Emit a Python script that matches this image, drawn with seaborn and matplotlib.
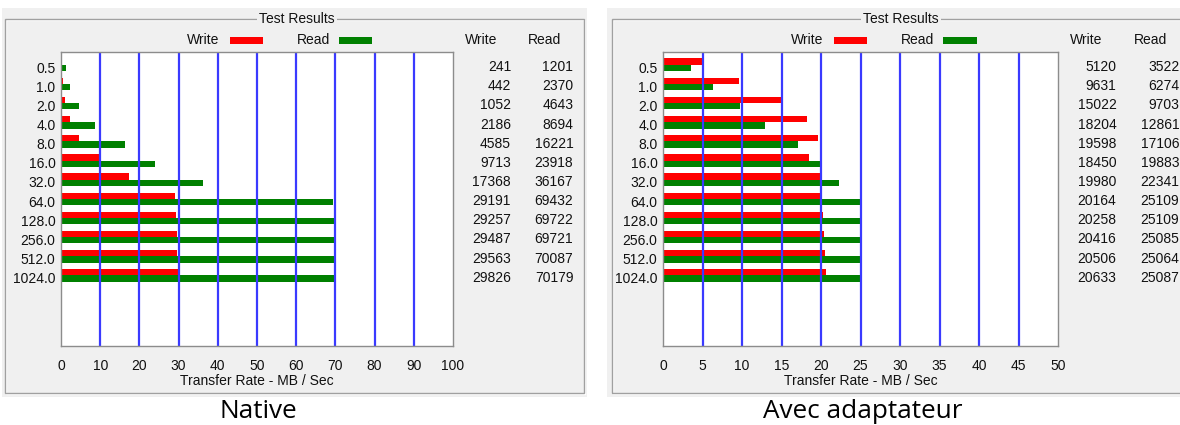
import numpy as np
import pandas as pd
import matplotlib
matplotlib.use("Agg")
import matplotlib.pyplot as plt
from matplotlib.patches import Rectangle
import seaborn as sns

# Block sizes (KB) and measured transfer rates (KB/s)
block_sizes = ["0.5", "1.0", "2.0", "4.0", "8.0", "16.0", "32.0",
               "64.0", "128.0", "256.0", "512.0", "1024.0"]
native_write = [241, 442, 1052, 2186, 4585, 9713, 17368,
                29191, 29257, 29487, 29563, 29826]
native_read = [1201, 2370, 4643, 8694, 16221, 23918, 36167,
               69432, 69722, 69721, 70087, 70179]
adapter_write = [5120, 9631, 15022, 18204, 19598, 18450, 19980,
                 20164, 20258, 20416, 20506, 20633]
adapter_read = [3522, 6274, 9703, 12861, 17106, 19883, 22341,
                25109, 25109, 25085, 25064, 25087]
native_ticks = [0, 10, 20, 30, 40, 50, 60, 70, 80, 90, 100]
adapter_ticks = [0, 5, 10, 15, 20, 25, 30, 35, 40, 45, 50]
series_names = ["Write", "Read"]
captions = ["Native", "Avec adaptateur"]
box_title = "Test Results"
x_title = "Transfer Rate - MB / Sec"

W, H = 1180, 425
RED = "#ff0000"
GREEN = "#008000"
GRID_BLUE = "#3a3aff"
PANEL = "#f0f0f0"
EDGE = "#a0a0a0"
TXT = "#111111"

sns.set_style("white")
plt.rcParams["font.family"] = ["Liberation Sans", "DejaVu Sans"]
plt.rcParams["font.size"] = 10

fig = plt.figure(figsize=(W / 100, H / 100), dpi=100, facecolor="white")


def fx(x):
    return x / W


def fy(y):
    return 1 - y / H


AX_TOP, AX_BOTTOM = 52, 346
ROW_SHIFT = 0.12

panels = [
    dict(write=native_write, read=native_read, ticks=native_ticks,
         caption=captions[0], left=61, right=453, bg=(2, 587), box=(5, 584),
         cap_x=258),
    dict(write=adapter_write, read=adapter_read, ticks=adapter_ticks,
         caption=captions[1], left=663, right=1058, bg=(607, 1190),
         box=(612, 1192), cap_x=863),
]

for p in panels:
    # grey dialog background and group-box frame
    bx0, bx1 = p["bg"]
    fig.add_artist(Rectangle((fx(bx0), fy(397)), (bx1 - bx0) / W, (397 - 8) / H,
                             transform=fig.transFigure, facecolor=PANEL,
                             edgecolor="none", zorder=-2))
    gx0, gx1 = p["box"]
    fig.add_artist(Rectangle((fx(gx0 + 1), fy(394)), (gx1 - gx0) / W, (394 - 20) / H,
                             transform=fig.transFigure, facecolor="none",
                             edgecolor="white", lw=1, zorder=-1.5))
    fig.add_artist(Rectangle((fx(gx0), fy(393)), (gx1 - gx0) / W, (393 - 19) / H,
                             transform=fig.transFigure, facecolor="none",
                             edgecolor=EDGE, lw=1, zorder=-1))

    ax = fig.add_axes([fx(p["left"]), fy(AX_BOTTOM),
                       (p["right"] - p["left"]) / W, (AX_BOTTOM - AX_TOP) / H])
    ax.set_facecolor("white")

    df = pd.DataFrame({
        "size": block_sizes * 2,
        "rate": np.r_[p["write"], p["read"]] / 1000.0,
        "kind": [series_names[0]] * len(block_sizes) + [series_names[1]] * len(block_sizes),
    })
    sns.barplot(data=df, x="rate", y="size", hue="kind", order=block_sizes,
                hue_order=series_names, palette=[RED, GREEN], orient="h",
                width=0.66, saturation=1, linewidth=0, legend=False, ax=ax)

    ticks = p["ticks"]
    for t in ticks[1:-1]:
        ax.axvline(t, color=GRID_BLUE, lw=1.6, zorder=3)
    ax.set_xlim(ticks[0], ticks[-1])
    ax.set_xticks(ticks, [str(t) for t in ticks])
    rows = np.arange(len(block_sizes))
    ax.set_yticks(rows + ROW_SHIFT, block_sizes)
    ax.set_ylim(14.68, -0.665)
    ax.set_ylabel("")
    ax.set_xlabel(x_title, fontsize=10, labelpad=1, color=TXT)
    ax.tick_params(axis="x", length=0, pad=9, labelsize=10, labelcolor=TXT)
    ax.tick_params(axis="y", length=0, pad=4, labelsize=10, labelcolor=TXT)
    for s in ax.spines.values():
        s.set_color("#8c8c8c")
        s.set_linewidth(1)
        s.set_zorder(4)

    # group-box title sitting on the frame line
    title_y = 1 + (AX_TOP - 19) / (AX_BOTTOM - AX_TOP)
    ax.text(0.602, title_y, box_title, transform=ax.transAxes, ha="center",
            va="center", fontsize=10, color=TXT,
            bbox=dict(boxstyle="square,pad=0.15", facecolor=PANEL, edgecolor="none"))

    # legend: label then colour swatch
    leg_y = 1 + (AX_TOP - 40.5) / (AX_BOTTOM - AX_TOP)
    sw_h = 6 / (AX_BOTTOM - AX_TOP)
    ax.text(0.405, leg_y, series_names[0], transform=ax.transAxes, ha="right",
            va="center", fontsize=10, color=TXT)
    ax.add_patch(Rectangle((0.432, leg_y - sw_h / 2), 0.084, sw_h,
                           transform=ax.transAxes, facecolor=RED,
                           edgecolor="none", clip_on=False))
    ax.text(0.602, leg_y, series_names[1], transform=ax.transAxes, ha="left",
            va="center", fontsize=10, color=TXT)
    ax.add_patch(Rectangle((0.709, leg_y - sw_h / 2), 0.085, sw_h,
                           transform=ax.transAxes, facecolor=GREEN,
                           edgecolor="none", clip_on=False))

    # value table to the right of the plot
    ax.text(1.031, leg_y, series_names[0], transform=ax.transAxes, ha="left",
            va="center", fontsize=10, color=TXT)
    ax.text(1.191, leg_y, series_names[1], transform=ax.transAxes, ha="left",
            va="center", fontsize=10, color=TXT)
    ytr = ax.get_yaxis_transform()
    for r, (w, rd) in enumerate(zip(p["write"], p["read"])):
        ax.text(1.148, r + ROW_SHIFT, str(w), transform=ytr, ha="right",
                va="center", fontsize=10, color=TXT, clip_on=False)
        ax.text(1.307, r + ROW_SHIFT, str(rd), transform=ytr, ha="right",
                va="center", fontsize=10, color=TXT, clip_on=False)

    fig.text(fx(p["cap_x"]), fy(412), p["caption"], ha="center", va="center",
             family=["Open Sans", "DejaVu Sans"], fontsize=18.8, color="black")

fig.savefig("out.png", dpi=100, facecolor="white")
